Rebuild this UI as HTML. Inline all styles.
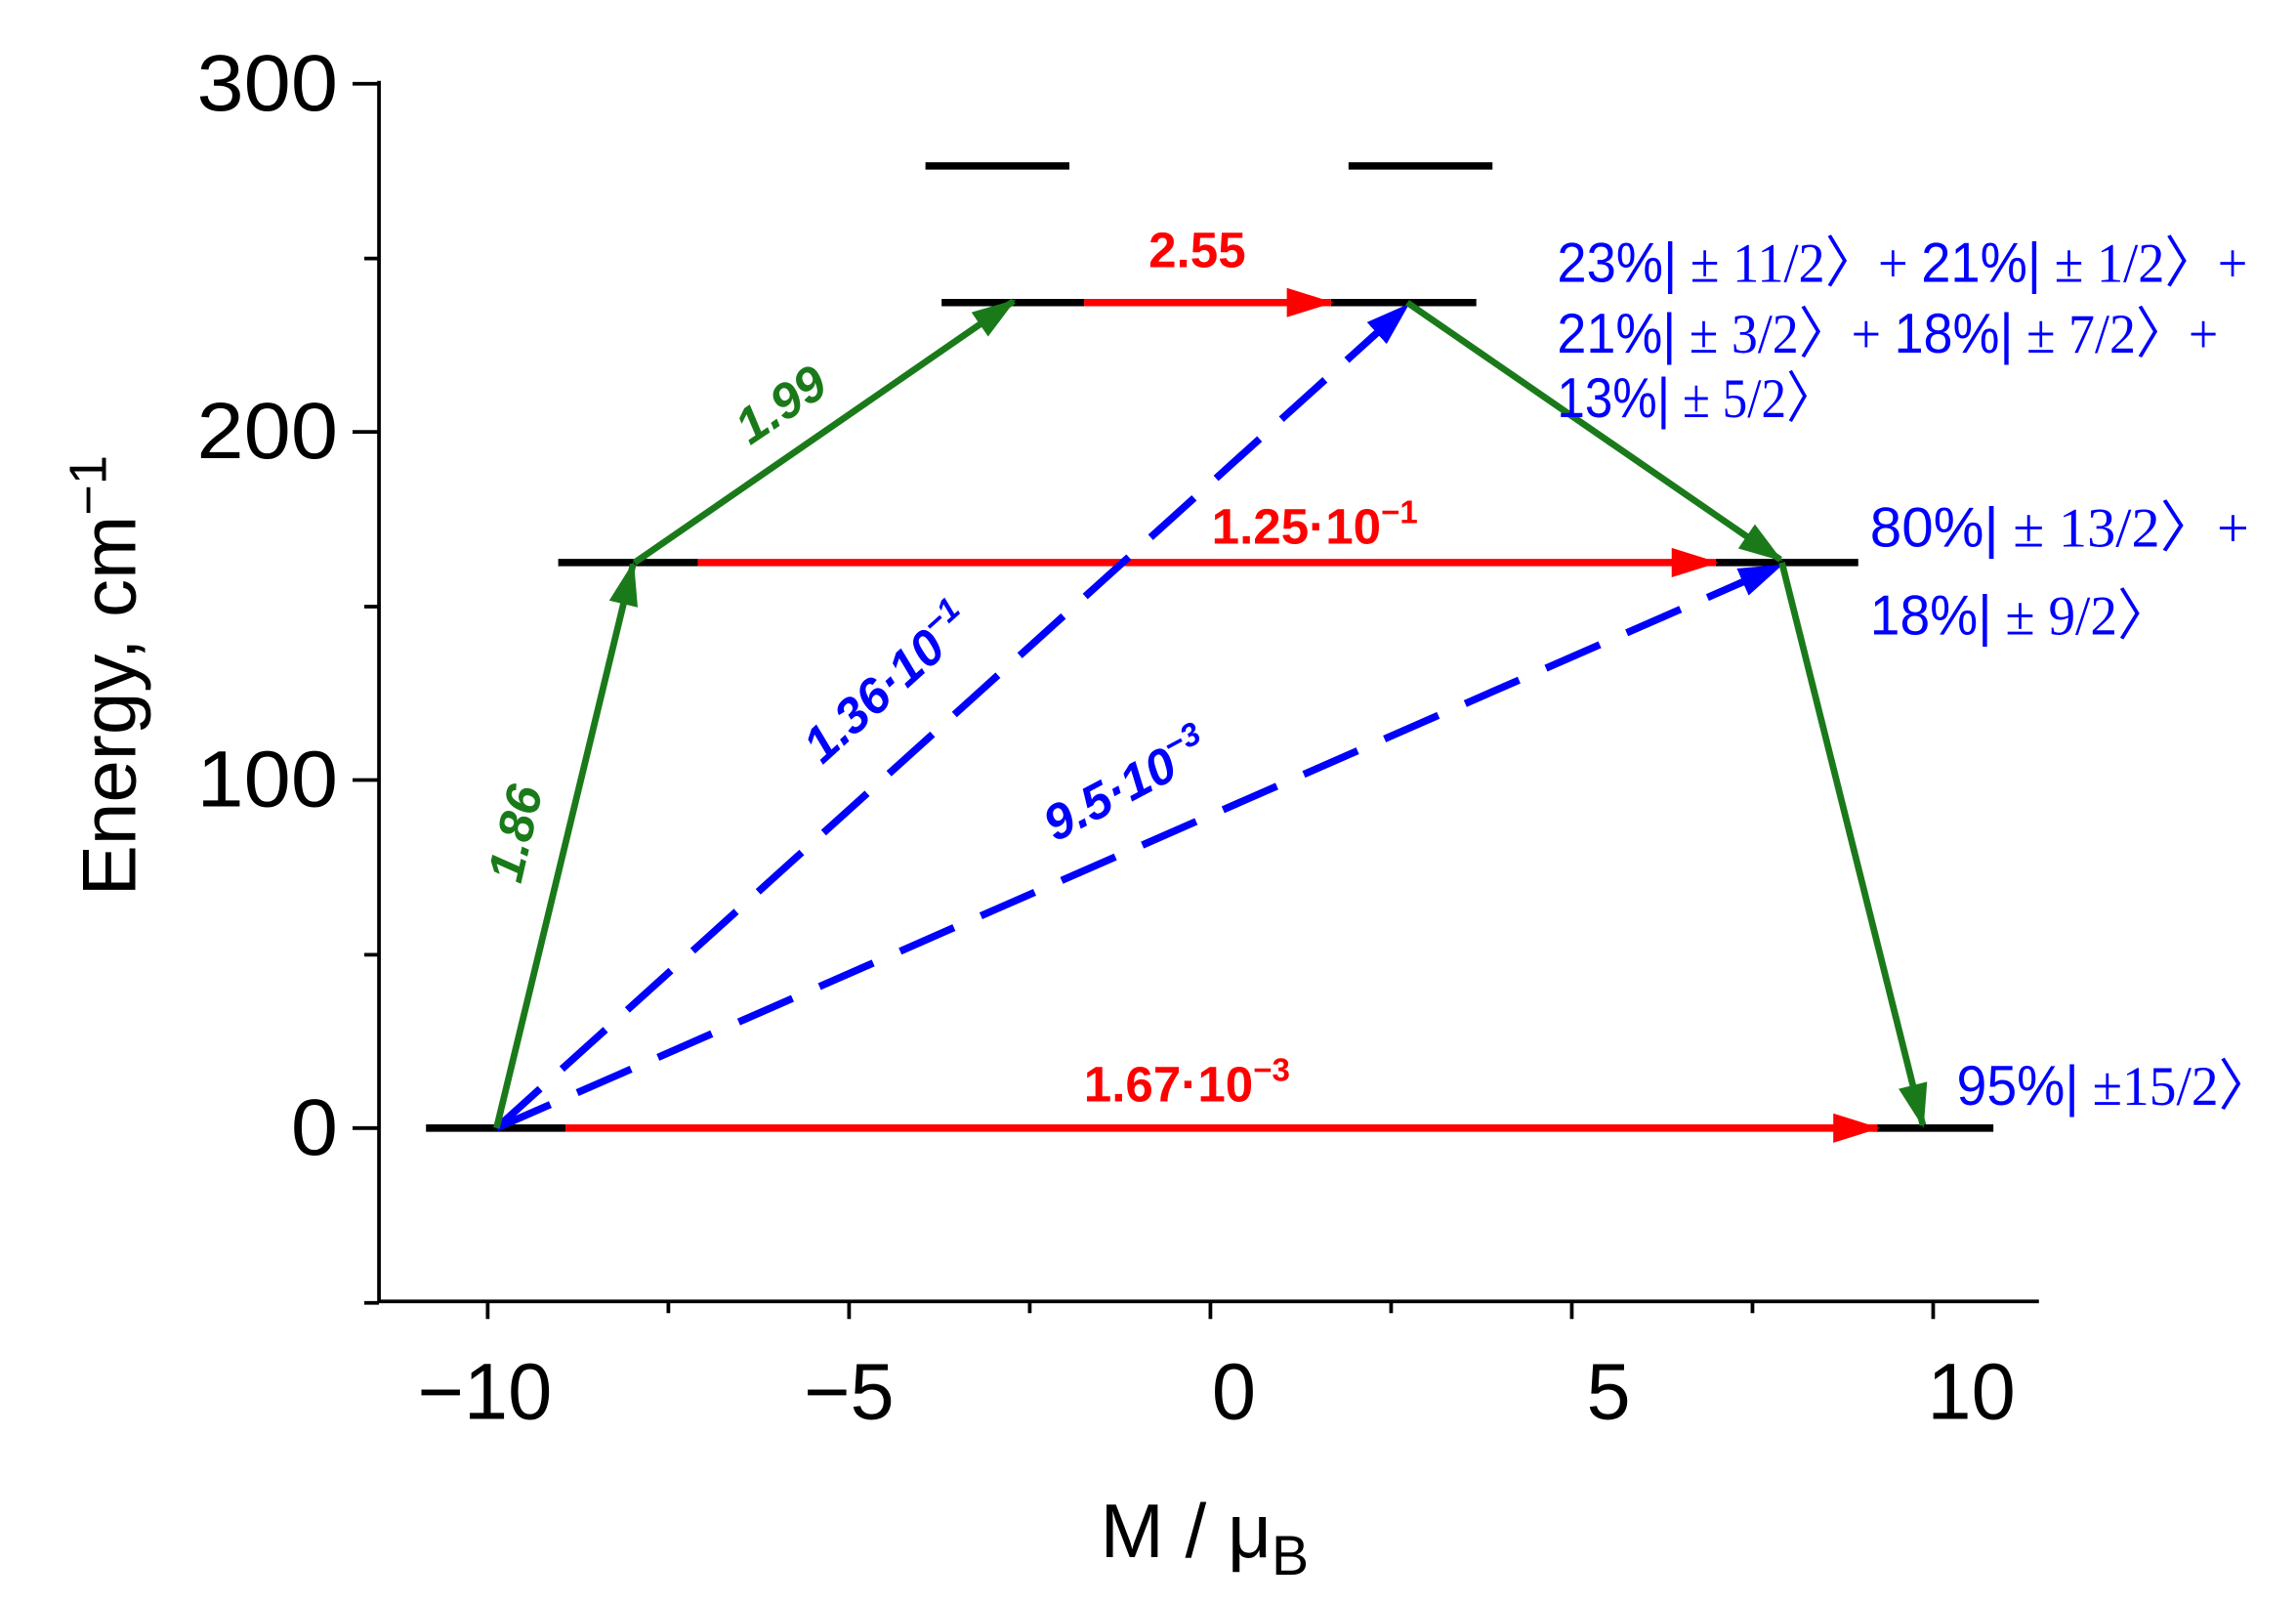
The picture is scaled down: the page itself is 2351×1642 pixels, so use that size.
<!DOCTYPE html>
<html><head><meta charset="utf-8"><style>
html,body{margin:0;padding:0;background:#fff;}
svg{display:block;}
text{font-family:"Liberation Sans",sans-serif;}
.srf{font-family:"Liberation Serif",serif;}
</style></head><body>
<svg width="2351" height="1642" viewBox="0 0 1563 1092" preserveAspectRatio="none" xmlns="http://www.w3.org/2000/svg">
<defs>
<marker id="ag" markerWidth="30" markerHeight="20" refX="28" refY="10" orient="auto" markerUnits="userSpaceOnUse" viewBox="0 0 30 20"><path d="M0,0 L30,10 L0,20 z" fill="#1a7a1a"/></marker>
<marker id="ar" markerWidth="32" markerHeight="20" refX="30" refY="10" orient="auto" viewBox="0 0 32 20" markerUnits="userSpaceOnUse"><path d="M0,0 L32,10 L0,20 z" fill="#ff0000"/></marker>
<marker id="ab" markerWidth="30" markerHeight="20" refX="28" refY="10" orient="auto" viewBox="0 0 30 20" markerUnits="userSpaceOnUse"><path d="M0,0 L30,10 L0,20 z" fill="#0000ff"/></marker>
</defs>
<g stroke="#000" stroke-width="2.5" fill="none">
<path d="M258,55 V886 H1388"/>
<path d="M240,57 H258 M240,294 H258 M240,531 H258 M240,768 H258"/>
<path d="M248,176 H258 M248,413 H258 M248,650 H258 M248,887 H258"/>
<path d="M332,886 V898 M578,886 V898 M824,886 V898 M1070,886 V898 M1316,886 V898"/>
<path d="M455,886 V894 M701,886 V894 M947,886 V894 M1193,886 V894"/>
</g>
<g font-size="54" fill="#000" text-anchor="end">
<text x="230" y="75" textLength="96" lengthAdjust="spacingAndGlyphs">300</text>
<text x="230" y="312" textLength="96" lengthAdjust="spacingAndGlyphs">200</text>
<text x="230" y="549" textLength="96" lengthAdjust="spacingAndGlyphs">100</text>
<text x="230" y="786" textLength="32" lengthAdjust="spacingAndGlyphs">0</text>
</g>
<g font-size="54" fill="#000" text-anchor="middle">
<text x="330" y="966">−10</text>
<text x="578" y="966">−5</text>
<text x="840" y="966">0</text>
<text x="1095" y="966">5</text>
<text x="1342" y="966">10</text>
</g>
<text x="820" y="1060" font-size="52" text-anchor="middle">M / μ<tspan font-size="38" dy="12">B</tspan></text>
<text transform="translate(92,460) rotate(-90)" font-size="52" text-anchor="middle">Energy, cm<tspan font-size="36" dy="-20">−1</tspan></text>
<g stroke="#000" stroke-width="5">
<path d="M290,768 H385 M1275,768 H1357"/>
<path d="M380,383 H475 M1168,383 H1265"/>
<path d="M641,206 H738 M906,206 H1005"/>
<path d="M630,113 H728 M918,113 H1016"/>
</g>
<g stroke="#ff0000" stroke-width="5">
<line x1="385" y1="768" x2="1278" y2="768" marker-end="url(#ar)"/>
<line x1="475" y1="383" x2="1168" y2="383" marker-end="url(#ar)"/>
<line x1="738" y1="206" x2="906" y2="206" marker-end="url(#ar)"/>
</g>
<g stroke="#0000ff" stroke-width="5" stroke-dasharray="40,20">
<line x1="338" y1="768" x2="958" y2="208" marker-end="url(#ab)"/>
<line x1="338" y1="768" x2="1212" y2="385" marker-end="url(#ab)"/>
</g>
<g stroke="#1a7a1a" stroke-width="4.5">
<line x1="338" y1="768" x2="431" y2="384" marker-end="url(#ag)"/>
<line x1="432" y1="383" x2="690" y2="205" marker-end="url(#ag)"/>
<line x1="958" y1="206" x2="1212" y2="381" marker-end="url(#ag)"/>
<line x1="1213" y1="383" x2="1309" y2="766" marker-end="url(#ag)"/>
</g>
<g font-weight="bold" font-size="34">
<text transform="translate(362,570) rotate(-77)" fill="#1a7a1a" text-anchor="middle" font-style="italic">1.86</text>
<text transform="translate(538,285) rotate(-34)" fill="#1a7a1a" text-anchor="middle" font-style="italic">1.99</text>
<text x="815" y="182" fill="#ff0000" text-anchor="middle">2.55</text>
<text x="895" y="370" fill="#ff0000" text-anchor="middle">1.25·10<tspan font-size="22" dy="-14">−1</tspan></text>
<text x="808" y="750" fill="#ff0000" text-anchor="middle">1.67·10<tspan font-size="22" dy="-14">−3</tspan></text>
<text transform="translate(612,474) rotate(-42)" fill="#0000ff" text-anchor="middle" font-style="italic">1.36·10<tspan font-size="22" dy="-14">−1</tspan></text>
<text transform="translate(772,545) rotate(-28)" fill="#0000ff" text-anchor="middle" font-style="italic">9.5·10<tspan font-size="22" dy="-14">−3</tspan></text>
</g>
<g fill="#0000ff" font-size="38">
<text x="1060" y="192" textLength="470" lengthAdjust="spacingAndGlyphs">23%|<tspan class="srf"> ± 11/2〉+ </tspan>21%|<tspan class="srf"> ± 1/2〉+</tspan></text>
<text x="1060" y="240" textLength="450" lengthAdjust="spacingAndGlyphs">21%|<tspan class="srf"> ± 3/2〉+ </tspan>18%|<tspan class="srf"> ± 7/2〉+</tspan></text>
<text x="1060" y="284" textLength="190" lengthAdjust="spacingAndGlyphs">13%|<tspan class="srf"> ± 5/2〉</tspan></text>
<text x="1273" y="372" textLength="258" lengthAdjust="spacingAndGlyphs">80%|<tspan class="srf"> ± 13/2〉+</tspan></text>
<text x="1273" y="432" textLength="205" lengthAdjust="spacingAndGlyphs">18%|<tspan class="srf"> ± 9/2〉</tspan></text>
<text x="1332" y="752" textLength="215" lengthAdjust="spacingAndGlyphs">95%|<tspan class="srf"> ±15/2〉</tspan></text>
</g>
</svg>
</body></html>
